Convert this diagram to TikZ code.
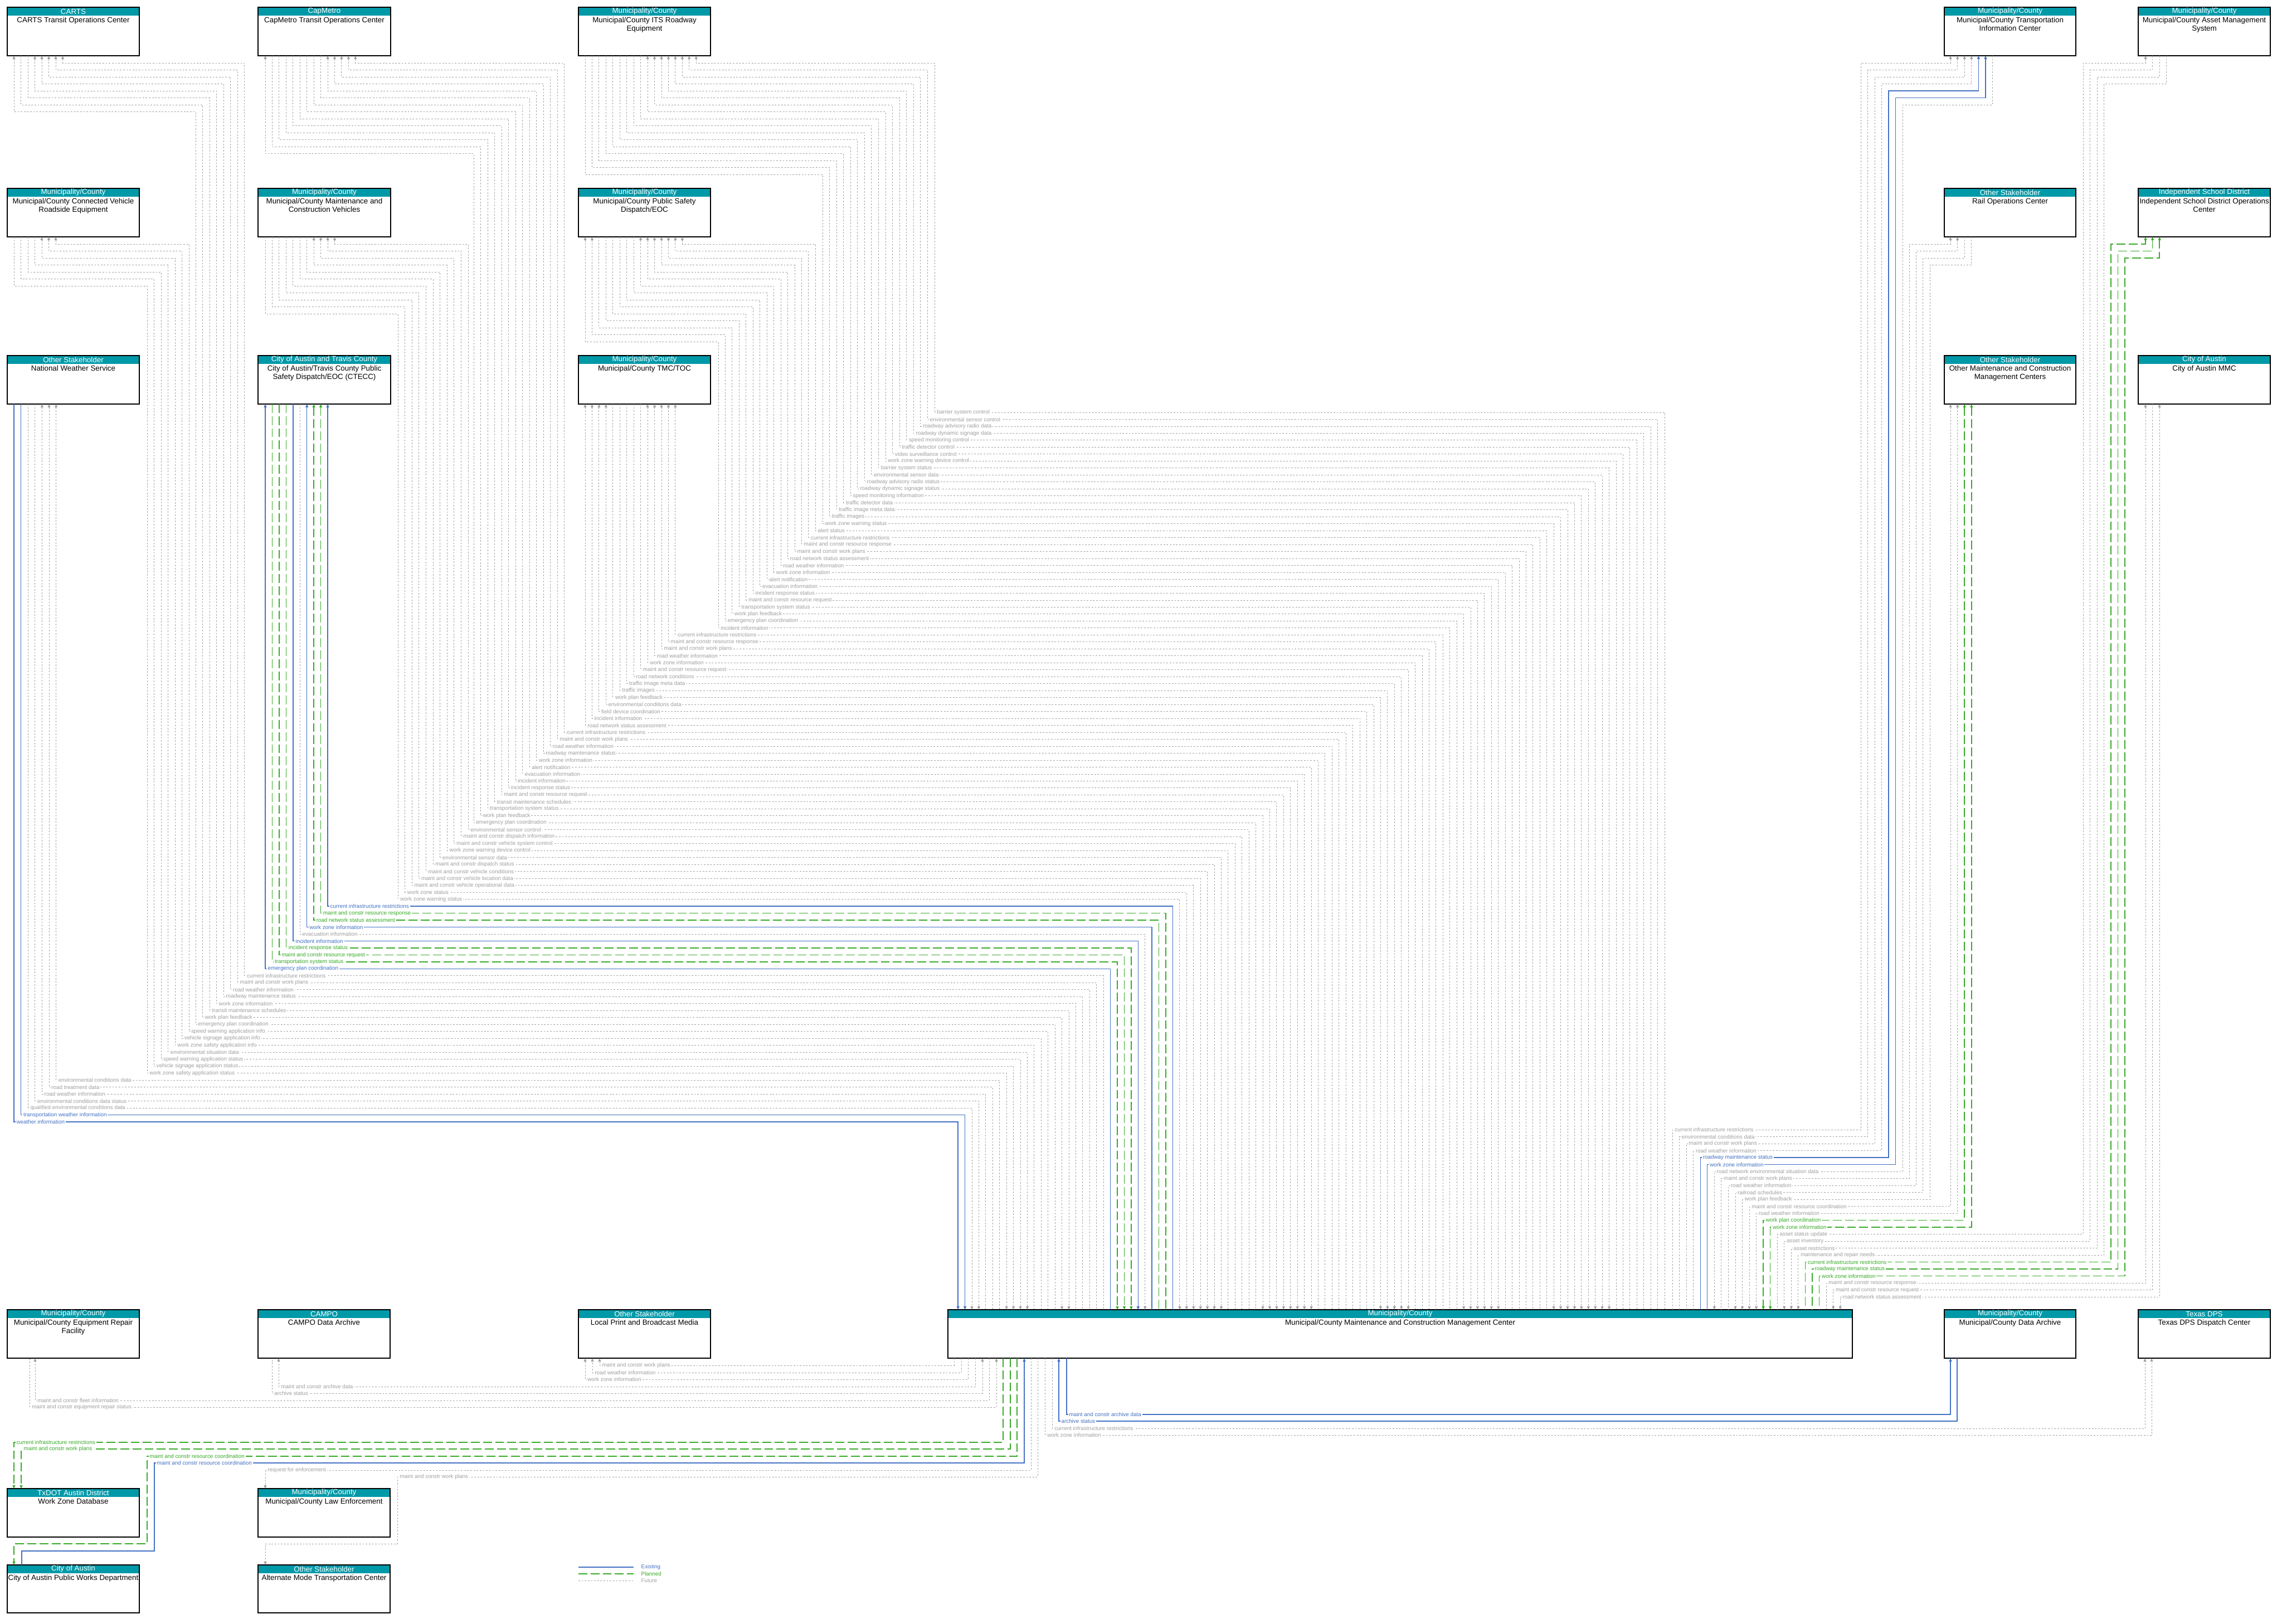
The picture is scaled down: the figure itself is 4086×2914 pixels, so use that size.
\documentclass[tikz,border=0pt]{standalone}
\usepackage{fontspec}
\setmainfont{Liberation Sans}
\usetikzlibrary{arrows.meta,calc,fit}

\definecolor{hdrteal}{RGB}{0,153,168}
\definecolor{existblue}{RGB}{68,114,196}
\definecolor{plangreen}{RGB}{56,170,40}
\definecolor{futgray}{RGB}{160,160,160}

\newcommand{\entfont}{\fontsize{3.8pt}{4.25pt}\selectfont}
\newcommand{\lblfont}{\fontsize{2.8pt}{3.3pt}\selectfont}

\tikzset{
  fut/.style={color=futgray, line width=0.26pt, dash pattern=on 0.8pt off 0.8pt},
  exist/.style={color=existblue, line width=0.4pt},
  plan/.style={color=plangreen, line width=0.42pt, dash pattern=on 4.5pt off 1.7pt},
  toN/.style={<-}, toM/.style={->}, toB/.style={<->},
  lbl/.style={fill=white, font=\lblfont, anchor=west, inner sep=0.5pt, xshift=0.6pt},
  entbox/.style={fill=white, inner sep=0pt, outer sep=0pt},
  entline/.style={draw=black, line width=0.4pt},
  hdrtext/.style={text=white, font=\entfont, inner sep=0pt},
  nametext/.style={font=\entfont, align=center, anchor=north, inner sep=0pt},
  legtext/.style={font=\lblfont, anchor=west, inner sep=0pt}
}

\newcommand{\entity}[7]{%
  \node[entbox, fit={(#2,#3) (#4,#5)}] (#1) {};
  \fill[hdrteal] (#1.north west) rectangle ($(#1.north east)+(0,15)$);
  \draw[entline] (#1.north west) rectangle (#1.south east);
  \draw[line width=0.7pt] (#1.south west) -- (#1.south east);
  \node[hdrtext] at ($(#1.north)+(0,7.5)$) {#6};
  \node[nametext] at ($(#1.north)+(0,17)$) {#7};
}

\begin{document}
\begin{tikzpicture}[x=0.01cm, y=-0.01cm, >={Triangle[length=1.7pt,width=1.4pt]}]
  \useasboundingbox (0,0) rectangle (4086,2914);

  % entities
  \entity{carts}{13}{13}{250}{100}{CARTS}{CARTS Transit Operations Center}
  \entity{capm}{463}{13}{701}{100}{CapMetro}{CapMetro Transit Operations Center}
  \entity{its}{1038}{13}{1275}{100}{Municipality/County}{Municipal/County ITS Roadway\\Equipment}
  \entity{tic}{3489}{13}{3725}{100}{Municipality/County}{Municipal/County Transportation\\Information Center}
  \entity{ams}{3837}{13}{4074}{100}{Municipality/County}{Municipal/County Asset Management\\System}
  \entity{cvre}{13}{338}{250}{425}{Municipality/County}{Municipal/County Connected Vehicle\\Roadside Equipment}
  \entity{mcv}{463}{338}{701}{425}{Municipality/County}{Municipal/County Maintenance and\\Construction Vehicles}
  \entity{psd}{1038}{338}{1275}{425}{Municipality/County}{Municipal/County Public Safety\\Dispatch/EOC}
  \entity{rail}{3489}{338}{3725}{425}{Other Stakeholder}{Rail Operations Center}
  \entity{isd}{3837}{338}{4074}{425}{Independent School District}{Independent School District Operations\\Center}
  \entity{nws}{13}{638}{250}{725}{Other Stakeholder}{National Weather Service}
  \entity{ctecc}{463}{638}{701}{725}{City of Austin and Travis County}{City of Austin/Travis County Public\\Safety Dispatch/EOC (CTECC)}
  \entity{tmc}{1038}{638}{1275}{725}{Municipality/County}{Municipal/County TMC/TOC}
  \entity{omc}{3489}{638}{3725}{725}{Other Stakeholder}{Other Maintenance and Construction\\Management Centers}
  \entity{mmc}{3837}{638}{4074}{725}{City of Austin}{City of Austin MMC}
  \entity{erf}{13}{2350}{250}{2437}{Municipality/County}{Municipal/County Equipment Repair\\Facility}
  \entity{campo}{463}{2350}{700}{2437}{CAMPO}{CAMPO Data Archive}
  \entity{media}{1038}{2350}{1275}{2437}{Other Stakeholder}{Local Print and Broadcast Media}
  \entity{mcmc}{1701}{2350}{3324}{2437}{Municipality/County}{Municipal/County Maintenance and Construction Management Center}
  \entity{arch}{3489}{2350}{3725}{2437}{Municipality/County}{Municipal/County Data Archive}
  \entity{dps}{3837}{2350}{4074}{2437}{Texas DPS}{Texas DPS Dispatch Center}
  \entity{wzdb}{13}{2671}{250}{2758}{TxDOT Austin District}{Work Zone Database}
  \entity{lawe}{463}{2671}{700}{2758}{Municipality/County}{Municipal/County Law Enforcement}
  \entity{cpw}{13}{2808}{250}{2894}{City of Austin}{City of Austin Public Works Department}
  \entity{amtc}{463}{2808}{700}{2894}{Other Stakeholder}{Alternate Mode Transportation Center}

  % ITS roadway equipment
  \foreach \lbl/\sty/\tp [count=\i from 0] in {
    work zone warning status/fut/toM,
    traffic images/fut/toM,
    traffic image meta data/fut/toM,
    traffic detector data/fut/toM,
    speed monitoring information/fut/toM,
    roadway dynamic signage status/fut/toM,
    roadway advisory radio status/fut/toM,
    environmental sensor data/fut/toM,
    barrier system status/fut/toM,
    work zone warning device control/fut/toN,
    video surveillance control/fut/toN,
    traffic detector control/fut/toN,
    speed monitoring control/fut/toN,
    roadway dynamic signage data/fut/toN,
    roadway advisory radio data/fut/toN,
    environmental sensor control/fut/toN,
    barrier system control/fut/toN}{
    \pgfmathsetmacro\lv{16-\i}
    \pgfmathsetmacro\yl{740+12.48*\lv}
    \pgfmathsetmacro\xc{2987-12.43*\lv}
    \pgfmathsetmacro\dx{12+12.45*\i}
    \pgfmathsetmacro\yc{113+12.5*(16-\i)}
    \pgfmathsetmacro\xh{1476+12.56*\i}
    \draw[\sty,\tp] ($(its.south west)+(\dx,0)$) |- (\xh,\yc) |- (\xc,\yl) -- ($(mcmc.north west)+(\xc-1701,0)$);
    \node[\sty,lbl] at (\xh,\yl) {\lbl};
  }

  % public safety dispatch
  \foreach \lbl/\sty/\tp [count=\i from 0] in {
    incident information/fut/toN,
    emergency plan coordination/fut/toN,
    work plan feedback/fut/toM,
    transportation system status/fut/toM,
    maint and constr resource request/fut/toM,
    incident response status/fut/toM,
    evacuation information/fut/toM,
    alert notification/fut/toM,
    work zone information/fut/toN,
    road weather information/fut/toN,
    road network status assessment/fut/toN,
    maint and constr work plans/fut/toN,
    maint and constr resource response/fut/toN,
    current infrastructure restrictions/fut/toN,
    alert status/fut/toN}{
    \pgfmathsetmacro\lv{31-\i}
    \pgfmathsetmacro\yl{740+12.48*\lv}
    \pgfmathsetmacro\xc{2987-12.43*\lv}
    \pgfmathsetmacro\dx{12+12.45*\i}
    \pgfmathsetmacro\yc{438+12.5*(14-\i)}
    \pgfmathsetmacro\xh{1289+12.45*\i}
    \draw[\sty,\tp] ($(psd.south west)+(\dx,0)$) |- (\xh,\yc) |- (\xc,\yl) -- ($(mcmc.north west)+(\xc-1701,0)$);
    \node[\sty,lbl] at (\xh,\yl) {\lbl};
  }

  % TMC/TOC
  \foreach \lbl/\sty/\tp [count=\i from 0] in {
    road network status assessment/fut/toN,
    incident information/fut/toN,
    field device coordination/fut/toN,
    environmental conditions data/fut/toN,
    work plan feedback/fut/toM,
    traffic images/fut/toM,
    traffic image meta data/fut/toM,
    road network conditions/fut/toM,
    maint and constr resource request/fut/toM,
    work zone information/fut/toN,
    road weather information/fut/toN,
    maint and constr work plans/fut/toN,
    maint and constr resource response/fut/toN,
    current infrastructure restrictions/fut/toN}{
    \pgfmathsetmacro\lv{45-\i}
    \pgfmathsetmacro\yl{740+12.48*\lv}
    \pgfmathsetmacro\xc{2987-12.43*\lv}
    \pgfmathsetmacro\dx{12+12.45*\i}
    \draw[\sty,\tp] ($(tmc.south west)+(\dx,0)$) |- (\xc,\yl) -- ($(mcmc.north west)+(\xc-1701,0)$);
    \node[\sty,lbl] at (1038+\dx,\yl) {\lbl};
  }

  % CapMetro
  \foreach \lbl/\sty/\tp [count=\i from 0] in {
    emergency plan coordination/fut/toN,
    work plan feedback/fut/toM,
    transportation system status/fut/toM,
    transit maintenance schedules/fut/toM,
    maint and constr resource request/fut/toM,
    incident response status/fut/toM,
    incident information/fut/toM,
    evacuation information/fut/toM,
    alert notification/fut/toM,
    work zone information/fut/toN,
    roadway maintenance status/fut/toN,
    road weather information/fut/toN,
    maint and constr work plans/fut/toN,
    current infrastructure restrictions/fut/toN}{
    \pgfmathsetmacro\lv{59-\i}
    \pgfmathsetmacro\yl{740+12.48*\lv}
    \pgfmathsetmacro\xc{2987-12.43*\lv}
    \pgfmathsetmacro\dx{13+12.45*\i}
    \pgfmathsetmacro\yc{113+12.5*(13-\i)}
    \pgfmathsetmacro\xh{850+12.5*\i}
    \draw[\sty,\tp] ($(capm.south west)+(\dx,0)$) |- (\xh,\yc) |- (\xc,\yl) -- ($(mcmc.north west)+(\xc-1701,0)$);
    \node[\sty,lbl] at (\xh,\yl) {\lbl};
  }

  % maintenance and construction vehicles
  \foreach \lbl/\sty/\tp [count=\i from 0] in {
    work zone warning status/fut/toM,
    work zone status/fut/toM,
    maint and constr vehicle operational data/fut/toM,
    maint and constr vehicle location data/fut/toM,
    maint and constr vehicle conditions/fut/toM,
    maint and constr dispatch status/fut/toM,
    environmental sensor data/fut/toM,
    work zone warning device control/fut/toN,
    maint and constr vehicle system control/fut/toN,
    maint and constr dispatch information/fut/toN,
    environmental sensor control/fut/toN}{
    \pgfmathsetmacro\lv{70-\i}
    \pgfmathsetmacro\yl{740+12.48*\lv}
    \pgfmathsetmacro\xc{2987-12.43*\lv}
    \pgfmathsetmacro\dx{13+12.45*\i}
    \pgfmathsetmacro\yc{438+12.5*(10-\i)}
    \pgfmathsetmacro\xh{714+12.6*\i}
    \draw[\sty,\tp] ($(mcv.south west)+(\dx,0)$) |- (\xh,\yc) |- (\xc,\yl) -- ($(mcmc.north west)+(\xc-1701,0)$);
    \node[\sty,lbl] at (\xh,\yl) {\lbl};
  }

  % CTECC
  \foreach \lbl/\sty/\tp [count=\i from 0] in {
    emergency plan coordination/exist/toN,
    transportation system status/plan/toM,
    maint and constr resource request/plan/toM,
    incident response status/plan/toM,
    incident information/exist/toM,
    evacuation information/fut/toM,
    work zone information/exist/toN,
    road network status assessment/plan/toN,
    maint and constr resource response/plan/toN,
    current infrastructure restrictions/exist/toN}{
    \pgfmathsetmacro\lv{80-\i}
    \pgfmathsetmacro\yl{740+12.48*\lv}
    \pgfmathsetmacro\xc{2987-12.43*\lv}
    \pgfmathsetmacro\dx{13+12.45*\i}
    \draw[\sty,\tp] ($(ctecc.south west)+(\dx,0)$) |- (\xc,\yl) -- ($(mcmc.north west)+(\xc-1701,0)$);
    \node[\sty,lbl] at (463+\dx,\yl) {\lbl};
  }

  % CARTS
  \foreach \lbl/\sty/\tp [count=\i from 0] in {
    emergency plan coordination/fut/toN,
    work plan feedback/fut/toM,
    transit maintenance schedules/fut/toM,
    work zone information/fut/toN,
    roadway maintenance status/fut/toN,
    road weather information/fut/toN,
    maint and constr work plans/fut/toN,
    current infrastructure restrictions/fut/toN}{
    \pgfmathsetmacro\lv{88-\i}
    \pgfmathsetmacro\yl{740+12.48*\lv}
    \pgfmathsetmacro\xc{2987-12.43*\lv}
    \pgfmathsetmacro\dx{12+12.5*\i}
    \pgfmathsetmacro\yc{113+12.5*(7-\i)}
    \pgfmathsetmacro\xh{351+12.55*\i}
    \draw[\sty,\tp] ($(carts.south west)+(\dx,0)$) |- (\xh,\yc) |- (\xc,\yl) -- ($(mcmc.north west)+(\xc-1701,0)$);
    \node[\sty,lbl] at (\xh,\yl) {\lbl};
  }

  % connected vehicle roadside equipment
  \foreach \lbl/\sty/\tp [count=\i from 0] in {
    work zone safety application status/fut/toM,
    vehicle signage application status/fut/toM,
    speed warning application status/fut/toM,
    environmental situation data/fut/toM,
    work zone safety application info/fut/toN,
    vehicle signage application info/fut/toN,
    speed warning application info/fut/toN}{
    \pgfmathsetmacro\lv{95-\i}
    \pgfmathsetmacro\yl{740+12.48*\lv}
    \pgfmathsetmacro\xc{2987-12.43*\lv}
    \pgfmathsetmacro\dx{12+12.5*\i}
    \pgfmathsetmacro\yc{438+12.5*(6-\i)}
    \pgfmathsetmacro\xh{264+12.5*\i}
    \draw[\sty,\tp] ($(cvre.south west)+(\dx,0)$) |- (\xh,\yc) |- (\xc,\yl) -- ($(mcmc.north west)+(\xc-1701,0)$);
    \node[\sty,lbl] at (\xh,\yl) {\lbl};
  }

  % national weather service
  \foreach \lbl/\sty/\tp [count=\i from 0] in {
    weather information/exist/toM,
    transportation weather information/exist/toM,
    qualified environmental conditions data/fut/toM,
    environmental conditions data status/fut/toM,
    road weather information/fut/toN,
    road treatment data/fut/toN,
    environmental conditions data/fut/toN}{
    \pgfmathsetmacro\lv{102-\i}
    \pgfmathsetmacro\yl{740+12.48*\lv}
    \pgfmathsetmacro\xc{2987-12.43*\lv}
    \pgfmathsetmacro\dx{12+12.6*\i}
    \draw[\sty,\tp] ($(nws.south west)+(\dx,0)$) |- (\xc,\yl) -- ($(mcmc.north west)+(\xc-1701,0)$);
    \node[\sty,lbl] at (13+\dx,\yl) {\lbl};
  }

  % transportation information center
  \foreach \lbl/\sty/\tp [count=\j from 0] in {
    current infrastructure restrictions/fut/toN,
    environmental conditions data/fut/toN,
    maint and constr work plans/fut/toN,
    road weather information/fut/toN,
    roadway maintenance status/exist/toN,
    work zone information/exist/toN,
    road network environmental situation data/fut/toM}{
    \pgfmathsetmacro\yl{2027+12.5*\j}
    \pgfmathsetmacro\xc{3001+12.55*\j}
    \pgfmathsetmacro\dx{11+12.6*\j}
    \pgfmathsetmacro\yc{113+12.5*\j}
    \pgfmathsetmacro\xh{3339+12.5*\j}
    \draw[\sty,\tp] ($(tic.south west)+(\dx,0)$) |- (\xh,\yc) |- (\xc,\yl) -- ($(mcmc.north west)+(\xc-1701,0)$);
    \node[\sty,lbl] at (\xc,\yl) {\lbl};
  }

  % rail operations
  \foreach \lbl/\sty/\tp [count=\j from 7] in {
    maint and constr work plans/fut/toN,
    road weather information/fut/toN,
    railroad schedules/fut/toM,
    work plan feedback/fut/toM}{
    \pgfmathsetmacro\yl{2027+12.5*\j}
    \pgfmathsetmacro\xc{3001+12.55*\j}
    \pgfmathsetmacro\dx{11+12.6*(\j-7)}
    \pgfmathsetmacro\yc{438+12.5*(\j-7)}
    \pgfmathsetmacro\xh{3426+12.4*(\j-7)}
    \draw[\sty,\tp] ($(rail.south west)+(\dx,0)$) |- (\xh,\yc) |- (\xc,\yl) -- ($(mcmc.north west)+(\xc-1701,0)$);
    \node[\sty,lbl] at (\xc,\yl) {\lbl};
  }

  % other maintenance and construction centers
  \foreach \lbl/\sty/\tp [count=\j from 11] in {
    maint and constr resource coordination/fut/toB,
    road weather information/fut/toB,
    work plan coordination/plan/toB,
    work zone information/plan/toB}{
    \pgfmathsetmacro\yl{2027+12.5*\j}
    \pgfmathsetmacro\xc{3001+12.55*\j}
    \pgfmathsetmacro\dx{11+12.6*(\j-11)}
    \draw[\sty,\tp] ($(omc.south west)+(\dx,0)$) |- (\xc,\yl) -- ($(mcmc.north west)+(\xc-1701,0)$);
    \node[\sty,lbl] at (\xc,\yl) {\lbl};
  }

  % asset management
  \foreach \lbl/\sty/\tp [count=\j from 15] in {
    asset status update/fut/toN,
    asset inventory/fut/toM,
    asset restrictions/fut/toM,
    maintenance and repair needs/fut/toM}{
    \pgfmathsetmacro\yl{2027+12.5*\j}
    \pgfmathsetmacro\xc{3001+12.55*\j}
    \pgfmathsetmacro\dx{13+12.6*(\j-15)}
    \pgfmathsetmacro\yc{113+12.5*(\j-15)}
    \pgfmathsetmacro\xh{3738+12.6*(\j-15)}
    \draw[\sty,\tp] ($(ams.south west)+(\dx,0)$) |- (\xh,\yc) |- (\xc,\yl) -- ($(mcmc.north west)+(\xc-1701,0)$);
    \node[\sty,lbl] at (\xc,\yl) {\lbl};
  }

  % school district
  \foreach \lbl/\sty/\tp [count=\j from 19] in {
    current infrastructure restrictions/plan/toN,
    roadway maintenance status/plan/toN,
    work zone information/plan/toN}{
    \pgfmathsetmacro\yl{2027+12.5*\j}
    \pgfmathsetmacro\xc{3001+12.55*\j}
    \pgfmathsetmacro\dx{13+12.6*(\j-19)}
    \pgfmathsetmacro\yc{438+12.5*(\j-19)}
    \pgfmathsetmacro\xh{3788+12.6*(\j-19)}
    \draw[\sty,\tp] ($(isd.south west)+(\dx,0)$) |- (\xh,\yc) |- (\xc,\yl) -- ($(mcmc.north west)+(\xc-1701,0)$);
    \node[\sty,lbl] at (\xc,\yl) {\lbl};
  }

  % City of Austin MMC
  \foreach \lbl/\sty/\tp [count=\j from 22] in {
    maint and constr resource response/fut/toN,
    maint and constr resource request/fut/toM,
    road network status assessment/fut/toB}{
    \pgfmathsetmacro\yl{2027+12.5*\j}
    \pgfmathsetmacro\xc{3001+12.55*\j}
    \pgfmathsetmacro\dx{13+12.5*(\j-22)}
    \draw[\sty,\tp] ($(mmc.south west)+(\dx,0)$) |- (\xc,\yl) -- ($(mcmc.north west)+(\xc-1701,0)$);
    \node[\sty,lbl] at (\xc,\yl) {\lbl};
  }

  % flows below the management center
  \draw[fut,->] ($(mcmc.south west)+(11,0)$) |- (1076,2450) -- ($(media.south west)+(38,0)$);
  \node[fut,lbl] at (1076,2450) {maint and constr work plans};
  \draw[fut,->] ($(mcmc.south west)+(24,0)$) |- (1063,2463) -- ($(media.south west)+(25,0)$);
  \node[fut,lbl] at (1063,2463) {road weather information};
  \draw[fut,->] ($(mcmc.south west)+(36,0)$) |- (1050,2475) -- ($(media.south west)+(12,0)$);
  \node[fut,lbl] at (1050,2475) {work zone information};
  \draw[fut,->] ($(mcmc.south west)+(49,0)$) |- (500,2488) -- ($(campo.south west)+(37,0)$);
  \node[fut,lbl] at (500,2488) {maint and constr archive data};
  \draw[fut,<-] ($(mcmc.south west)+(62,0)$) |- (488,2500) -- ($(campo.south west)+(25,0)$);
  \node[fut,lbl] at (488,2500) {archive status};
  \draw[fut,->] ($(mcmc.south west)+(74,0)$) |- (63,2513) -- ($(erf.south west)+(50,0)$);
  \node[fut,lbl] at (63,2513) {maint and constr fleet information};
  \draw[fut,<-] ($(mcmc.south west)+(87,0)$) |- (53,2525) -- ($(erf.south west)+(40,0)$);
  \node[fut,lbl] at (53,2525) {maint and constr equipment repair status};
  \draw[plan,->] ($(mcmc.south west)+(99,0)$) |- (25,2588) -- ($(wzdb.north west)+(12,0)$);
  \node[plan,lbl] at (25,2588) {current infrastructure restrictions};
  \draw[plan,->] ($(mcmc.south west)+(112,0)$) |- (38,2600) -- ($(wzdb.north west)+(25,0)$);
  \node[plan,lbl] at (38,2600) {maint and constr work plans};
  \draw[plan,->] ($(mcmc.south west)+(124,0)$) |- (264,2613) |- (25,2770) -- ($(cpw.north west)+(12,0)$);
  \node[plan,lbl] at (264,2613) {maint and constr resource coordination};
  \draw[exist,<-] ($(mcmc.south west)+(137,0)$) |- (277,2625) |- (39,2783) -- ($(cpw.north west)+(26,0)$);
  \node[exist,lbl] at (277,2625) {maint and constr resource coordination};
  \draw[fut,->] ($(mcmc.south west)+(149,0)$) |- (476,2638) -- ($(lawe.north west)+(13,0)$);
  \node[fut,lbl] at (476,2638) {request for enforcement};
  \draw[fut,->] ($(mcmc.south west)+(161,0)$) |- (713,2650) |- (476,2770) -- ($(amtc.north west)+(13,0)$);
  \node[fut,lbl] at (713,2650) {maint and constr work plans};
  \draw[exist,->] ($(mcmc.south west)+(213,0)$) |- (3500,2538) -- ($(arch.south west)+(11,0)$);
  \node[exist,lbl] at (1914,2538) {maint and constr archive data};
  \draw[exist,<-] ($(mcmc.south west)+(199,0)$) |- (3512,2550) -- ($(arch.south west)+(23,0)$);
  \node[exist,lbl] at (1900,2550) {archive status};
  \draw[fut,->] ($(mcmc.south west)+(187,0)$) |- (3849,2563) -- ($(dps.south west)+(12,0)$);
  \node[fut,lbl] at (1888,2563) {current infrastructure restrictions};
  \draw[fut,->] ($(mcmc.south west)+(174,0)$) |- (3861,2575) -- ($(dps.south west)+(24,0)$);
  \node[fut,lbl] at (1875,2575) {work zone information};

  % legend
  \node[legtext, text=existblue] (legex) at (1150,2812) {Existing};
  \node[legtext, text=plangreen] (legpl) at (1150,2824) {Planned};
  \node[legtext, text=futgray] (legfu) at (1150,2836) {Future};
  \draw[exist] ($(legex.west)+(-112,0)$) -- ($(legex.west)+(-13,0)$);
  \draw[plan] ($(legpl.west)+(-112,0)$) -- ($(legpl.west)+(-13,0)$);
  \draw[fut] ($(legfu.west)+(-112,0)$) -- ($(legfu.west)+(-13,0)$);
\end{tikzpicture}
\end{document}
